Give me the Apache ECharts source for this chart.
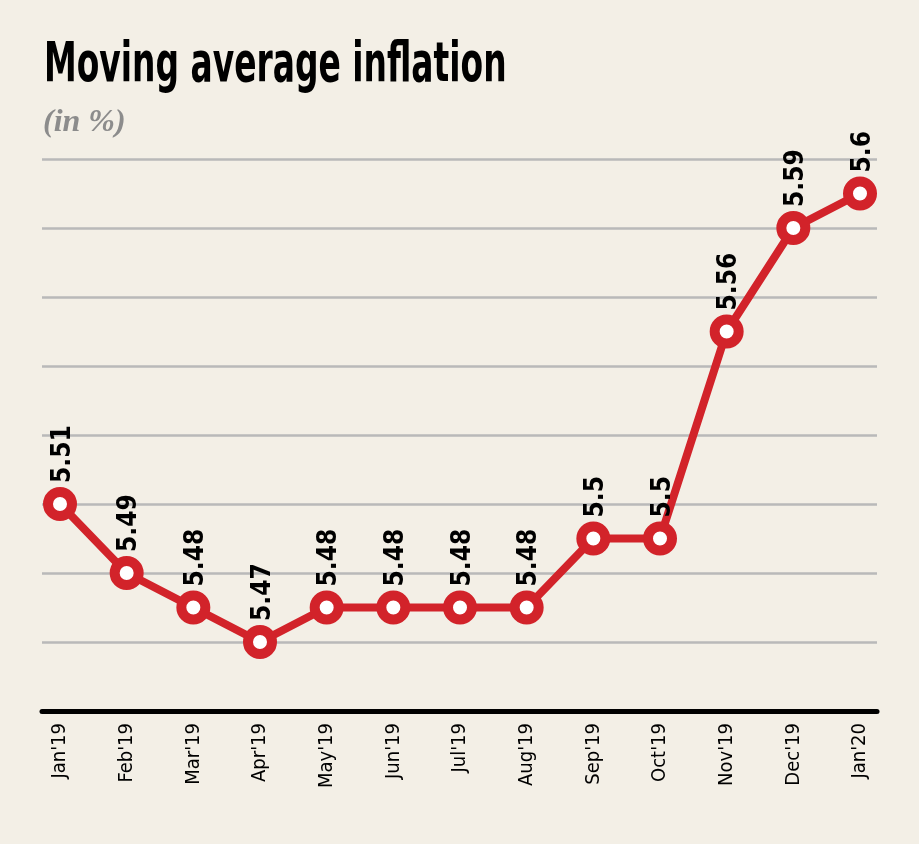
<!DOCTYPE html>
<html>
<head>
<meta charset="utf-8">
<script src="https://cdn.jsdelivr.net/npm/echarts@6/dist/echarts.min.js"></script>
<style>
html,body{margin:0;padding:0;background:#f3efe6;}
#c{width:919px;height:844px;}
</style>
</head>
<body>
<div id="c"></div>
<script>
const categories = ["Jan'19","Feb'19","Mar'19","Apr'19","May'19","Jun'19","Jul'19","Aug'19","Sep'19","Oct'19","Nov'19","Dec'19","Jan'20"];
const values = [5.51, 5.49, 5.48, 5.47, 5.48, 5.48, 5.48, 5.48, 5.50, 5.50, 5.56, 5.59, 5.60];
const valueLabels = ["5.51","5.49","5.48","5.47","5.48","5.48","5.48","5.48","5.5","5.5","5.56","5.59","5.6"];
const yMin = 5.45, yMax = 5.61, yStep = 0.02;

const narrow = "'DejaVu Sans Condensed', 'Liberation Sans Narrow', sans-serif";
const chart = echarts.init(document.getElementById('c'));
chart.setOption({
  backgroundColor: '#f3efe6',
  animation: false,
  graphic: [
    {type: 'text', x: 44, y: 39, scaleX: 0.665, silent: true,
     style: {text: 'Moving average inflation', fill: '#000',
       fontFamily: narrow, fontWeight: 'bold', fontSize: 55, verticalAlign: 'top'}},
    {type: 'text', x: 43, y: 107, silent: true,
     style: {text: '(in %)', fill: '#8c8c8c',
       fontFamily: "'Liberation Serif', serif", fontStyle: 'italic', fontWeight: 'bold', fontSize: 32, verticalAlign: 'top'}}
  ],
  grid: [
    {left: 42, right: 42, top: 159, bottom: 133},
    {left: 60, right: 59, top: 159, bottom: 133}
  ],
  xAxis: [
    {type: 'category', gridIndex: 0, data: categories, boundaryGap: false,
     axisLine: {show: true, lineStyle: {color: '#000', width: 5}},
     axisTick: {show: false}, axisLabel: {show: false}, splitLine: {show: false}},
    {type: 'category', gridIndex: 1, data: categories, boundaryGap: false,
     axisLine: {show: false}, axisTick: {show: false}, splitLine: {show: false},
     axisLabel: {rotate: 90, margin: 12, interval: 0, color: '#000',
       fontFamily: narrow, fontSize: 20}}
  ],
  yAxis: [
    {type: 'value', gridIndex: 0, min: yMin, max: yMax, interval: yStep,
     axisLine: {show: false}, axisTick: {show: false}, axisLabel: {show: false},
     splitLine: {show: true, lineStyle: {color: '#b9b9b9', width: 2.5}}},
    {type: 'value', gridIndex: 1, min: yMin, max: yMax, interval: yStep,
     axisLine: {show: false}, axisTick: {show: false}, axisLabel: {show: false},
     splitLine: {show: false}}
  ],
  series: [{
    type: 'line', xAxisIndex: 1, yAxisIndex: 1,
    data: values,
    symbol: 'circle', symbolSize: 24,
    lineStyle: {color: '#d2232a', width: 8},
    itemStyle: {color: '#ffffff', borderColor: '#d2232a', borderWidth: 10},
    label: {show: true, position: 'top', rotate: 90, distance: 4,
      align: 'left', verticalAlign: 'middle', offset: [0, 3],
      formatter: p => valueLabels[p.dataIndex],
      fontFamily: narrow, fontWeight: 'bold', fontSize: 26, color: '#000'},
    z: 3
  }]
});
</script>
</body>
</html>
